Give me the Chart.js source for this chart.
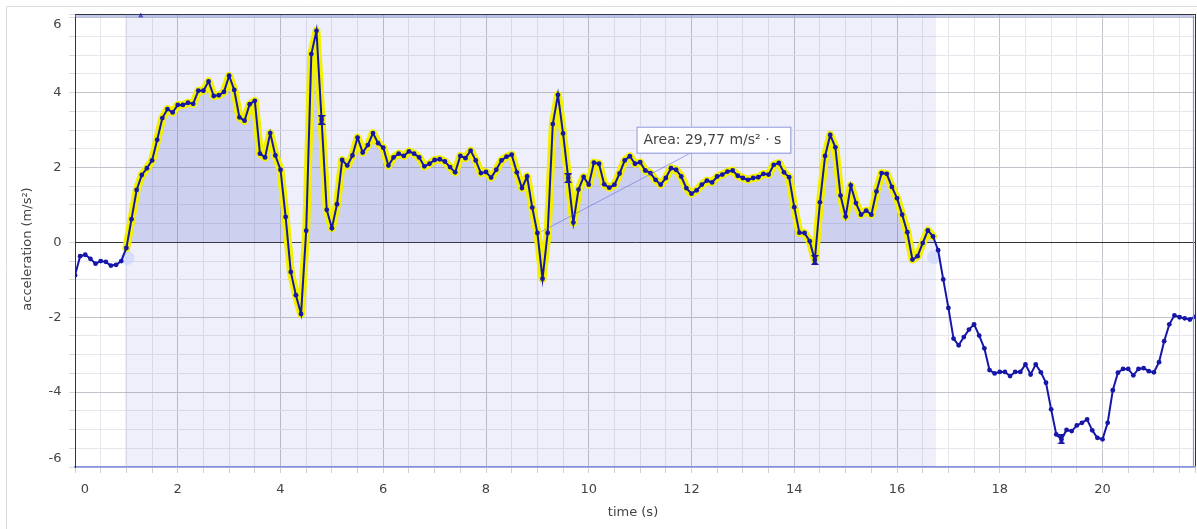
<!DOCTYPE html>
<html>
<head>
<meta charset="utf-8">
<script src="https://cdn.jsdelivr.net/npm/chart.js@4/dist/chart.umd.min.js"></script>
<style>
  html, body { margin: 0; padding: 0; background: #fff; }
  #wrap { position: relative; width: 1197px; height: 529px; }
</style>
</head>
<body>
<div id="wrap"><canvas id="ch-acc"></canvas></div>
<script>
// sensor sampled every 0.1 s
const sampleStep = 0.1;
const accel = [
  -0.88, -0.37, -0.33, -0.44, -0.57, -0.50, -0.52, -0.62, -0.60, -0.50,
  -0.15,  0.62,  1.40,  1.80,  1.98,  2.19,  2.74,  3.32,  3.56,  3.47,
   3.67,  3.67,  3.73,  3.70,  4.05,  4.05,  4.30,  3.91,  3.93,  4.02,
   4.45,  4.07,  3.34,  3.25,  3.69,  3.78,  2.37,  2.27,  2.92,  2.32,
   1.94,  0.68, -0.79, -1.41, -1.91,  0.31,  5.03,  5.65,  3.27,  0.87,
   0.38,  1.02,  2.20,  2.05,  2.32,  2.80,  2.40,  2.60,  2.92,  2.65,
   2.53,  2.05,  2.27,  2.37,  2.31,  2.43,  2.37,  2.27,  2.03,  2.10,
   2.20,  2.22,  2.16,  2.01,  1.87,  2.31,  2.25,  2.45,  2.19,  1.85,
   1.88,  1.73,  1.94,  2.19,  2.29,  2.34,  1.87,  1.45,  1.76,  0.93,
   0.25, -0.97,  0.25,  3.16,  3.94,  2.91,  1.72,  0.53,  1.41,  1.75,
   1.54,  2.13,  2.10,  1.55,  1.46,  1.54,  1.84,  2.19,  2.30,  2.10,
   2.14,  1.92,  1.85,  1.67,  1.54,  1.72,  1.98,  1.94,  1.76,  1.45,
   1.30,  1.39,  1.54,  1.65,  1.60,  1.76,  1.81,  1.89,  1.92,  1.78,
   1.72,  1.67,  1.72,  1.74,  1.83,  1.81,  2.07,  2.12,  1.87,  1.74,
   0.94,  0.26,  0.25,  0.03, -0.47,  1.07,  2.31,  2.87,  2.54,  1.25,
   0.69,  1.52,  1.05,  0.74,  0.85,  0.74,  1.36,  1.85,  1.83,  1.48,
   1.18,  0.74,  0.27, -0.46, -0.37, -0.02,  0.32,  0.16, -0.21, -0.99,
  -1.75, -2.57, -2.75, -2.53, -2.33, -2.19, -2.49, -2.83, -3.41, -3.50,
  -3.46, -3.46, -3.57, -3.46, -3.46, -3.26, -3.53, -3.26, -3.47, -3.75,
  -4.46, -5.13, -5.26, -5.01, -5.04, -4.89, -4.82, -4.73, -5.02, -5.22,
  -5.26, -4.82, -3.95, -3.48, -3.38, -3.38, -3.55, -3.38, -3.36, -3.44,
  -3.47, -3.20, -2.64, -2.19, -1.95, -2.00, -2.03, -2.06, -1.99
];

const xTickLabels = [0, 2, 4, 6, 8, 10, 12, 14, 16, 18, 20];
const yTickLabels = [-6, -4, -2, 0, 2, 4, 6];

// selected integration range
const regionStart = 0.97, regionEnd = 16.76;

// hourglass markers every 4.8 s
const markT = [4.8, 9.6, 14.4, 19.2];
const markA = [3.27, 1.72, -0.47, -5.26];

// range handles
const handleT = [1.02, 16.72];
const handleA = [-0.42, -0.40];

const topMarkT = [1.28];
const topMarkA = [6.05];

const areaText = 'Area: 29,77 m/s² · s';

const X_MIN = 0, X_MAX = 21.8, Y_MIN = -6, Y_MAX = 6.1;
const LINE = '#1616a8';

const pts = accel.map((a, i) => ({ x: +(i * sampleStep).toFixed(2), y: a }));
const hiPts = pts.filter(p => p.x >= regionStart && p.x <= regionEnd);

function gridVals(lo, hi, step, extra) {
  const v = [];
  for (let k = Math.round(lo / step); k * step <= hi + 1e-9; k++) v.push(+(k * step).toFixed(2));
  if (extra !== undefined) v.push(extra);
  return v;
}

function hourglass() {
  const c = document.createElement('canvas');
  c.width = 8; c.height = 10;
  const g = c.getContext('2d');
  g.fillStyle = LINE;
  g.beginPath(); g.moveTo(0, 0); g.lineTo(8, 0); g.lineTo(4, 5); g.closePath(); g.fill();
  g.beginPath(); g.moveTo(0, 10); g.lineTo(8, 10); g.lineTo(4, 5); g.closePath(); g.fill();
  return c;
}

const isMajor = v => Math.abs(v / 2 - Math.round(v / 2)) < 1e-6;

const decor = {
  id: 'decor',
  beforeDraw(chart) {
    const c = chart.ctx;
    c.save();
    c.strokeStyle = '#dcdcdc'; c.lineWidth = 1;
    c.beginPath();
    c.moveTo(6.5, 529); c.lineTo(6.5, 6.5); c.lineTo(1197, 6.5);
    c.stroke();
    c.restore();
  },
  beforeDatasetsDraw(chart) {
    const { ctx: c, chartArea: a, scales: { x } } = chart;
    const x0 = x.getPixelForValue(regionStart), x1 = x.getPixelForValue(regionEnd);
    c.save();
    c.fillStyle = 'rgba(100,110,210,0.11)';
    c.fillRect(x0, a.top, x1 - x0, a.bottom - a.top);
    c.restore();
  },
  afterDraw(chart) {
    const { ctx: c, chartArea: a, scales: { x, y } } = chart;
    c.save();
    // inner blue frame
    c.strokeStyle = '#8494e4'; c.lineWidth = 1.2;
    c.beginPath();
    c.moveTo(a.left, a.top + 2); c.lineTo(a.right - 1.5, a.top + 2); c.lineTo(a.right - 1.5, a.bottom);
    c.stroke();

    c.fillStyle = '#444';
    c.font = '13px "DejaVu Sans"';
    c.textAlign = 'center'; c.textBaseline = 'middle';
    xTickLabels.forEach(v => {
      let px = x.getPixelForValue(v);
      if (px < a.left + 8) px += 10;
      c.fillText(String(v), px, 490);
    });
    c.textAlign = 'right';
    yTickLabels.forEach(v => {
      let py = y.getPixelForValue(v);
      if (py < a.top + 10) py = a.top + 11;
      if (py > a.bottom - 6) py = a.bottom - 8;
      c.fillText(String(v), 61.5, py);
    });

    c.textAlign = 'center';
    c.fillText('time (s)', 633, 513);
    c.translate(28, 249); c.rotate(-Math.PI / 2);
    c.fillText('acceleration (m/s²)', 0, 0);
    c.restore();

    // area annotation
    c.save();
    const bx = x.getPixelForValue(10.93), by = y.getPixelForValue(3.09);
    const lx0 = x.getPixelForValue(11.96), ly0 = y.getPixelForValue(2.37);
    const lx1 = x.getPixelForValue(9.08), ly1 = y.getPixelForValue(0.29);
    c.strokeStyle = 'rgba(90,100,220,0.55)'; c.lineWidth = 1;
    c.beginPath(); c.moveTo(lx0, ly0); c.lineTo(lx1, ly1); c.stroke();
    c.font = '14px "DejaVu Sans"';
    const w = c.measureText(areaText).width + 16;
    c.fillStyle = '#fff';
    c.fillRect(bx, by, w, 26);
    c.strokeStyle = '#8c94dc';
    c.strokeRect(bx + 0.5, by + 0.5, w, 26);
    c.fillStyle = '#444'; c.textBaseline = 'middle'; c.textAlign = 'left';
    c.fillText(areaText, bx + 7, by + 13.5);
    c.restore();
  }
};

new Chart(document.getElementById('ch-acc'), {
  type: 'line',
  data: {
    datasets: [
      {
        label: 'marks',
        data: markT.map((t, i) => ({ x: t, y: markA[i] })),
        showLine: false,
        pointStyle: hourglass(),
        order: 0
      },
      {
        label: 'top',
        data: topMarkT.map((t, i) => ({ x: t, y: topMarkA[i] })),
        showLine: false,
        pointStyle: 'triangle',
        pointRadius: 3,
        pointBackgroundColor: LINE,
        pointBorderWidth: 0,
        clip: false,
        order: 0
      },
      {
        label: 'acceleration',
        data: pts,
        borderColor: LINE,
        borderWidth: 2,
        pointRadius: 2.4,
        pointBackgroundColor: LINE,
        pointBorderWidth: 0,
        tension: 0,
        order: 1
      },
      {
        label: 'selection',
        data: hiPts,
        borderColor: '#f2f200',
        borderWidth: 8,
        borderJoinStyle: 'round',
        borderCapStyle: 'round',
        pointRadius: 0,
        fill: { target: 'origin', above: 'rgba(80,85,200,0.2)', below: 'rgba(0,0,0,0)' },
        tension: 0,
        order: 2
      },
      {
        label: 'handles',
        data: handleT.map((t, i) => ({ x: t, y: handleA[i] })),
        showLine: false,
        pointRadius: 7,
        pointBackgroundColor: 'rgba(200,212,255,0.6)',
        pointBorderWidth: 0,
        order: 5
      }
    ]
  },
  options: {
    responsive: true,
    maintainAspectRatio: false,
    animation: false,
    devicePixelRatio: 1,
    events: [],
    layout: { autoPadding: false, padding: { top: 14, right: 2, left: 0, bottom: 0 } },
    plugins: { legend: { display: false }, tooltip: { enabled: false } },
    scales: {
      x: {
        type: 'linear', min: X_MIN, max: X_MAX,
        afterBuildTicks: s => { s.ticks = gridVals(X_MIN, 21.5, 0.5, X_MAX).map(v => ({ value: v })); },
        afterFit: s => { s.height = 62; s.paddingLeft = 0; s.paddingRight = 0; },
        border: { color: '#8494e4', width: 1.5 },
        grid: {
          color: c => c.tick.value === X_MAX ? '#333' : (isMajor(c.tick.value) ? '#c2c2ca' : '#e6e6ec'),
          tickColor: '#d0d0d0',
          tickLength: 6,
          lineWidth: 1
        },
        ticks: { autoSkip: false, maxRotation: 0, padding: 0, callback: () => '' }
      },
      y: {
        type: 'linear', min: Y_MIN, max: Y_MAX,
        afterBuildTicks: s => { s.ticks = gridVals(Y_MIN, 6, 0.5, Y_MAX).map(v => ({ value: v })); },
        afterFit: s => { s.width = 75; s.paddingTop = 0; s.paddingBottom = 0; },
        border: { color: '#333', width: 1 },
        grid: {
          color: c => (c.tick.value === 0 || c.tick.value === Y_MAX) ? '#333' : (isMajor(c.tick.value) ? '#c2c2ca' : '#e6e6ec'),
          tickColor: '#d8d8d8',
          tickLength: 6,
          lineWidth: 1
        },
        ticks: { autoSkip: false, padding: 0, callback: () => '' }
      }
    }
  },
  plugins: [decor]
});
</script>
</body>
</html>
